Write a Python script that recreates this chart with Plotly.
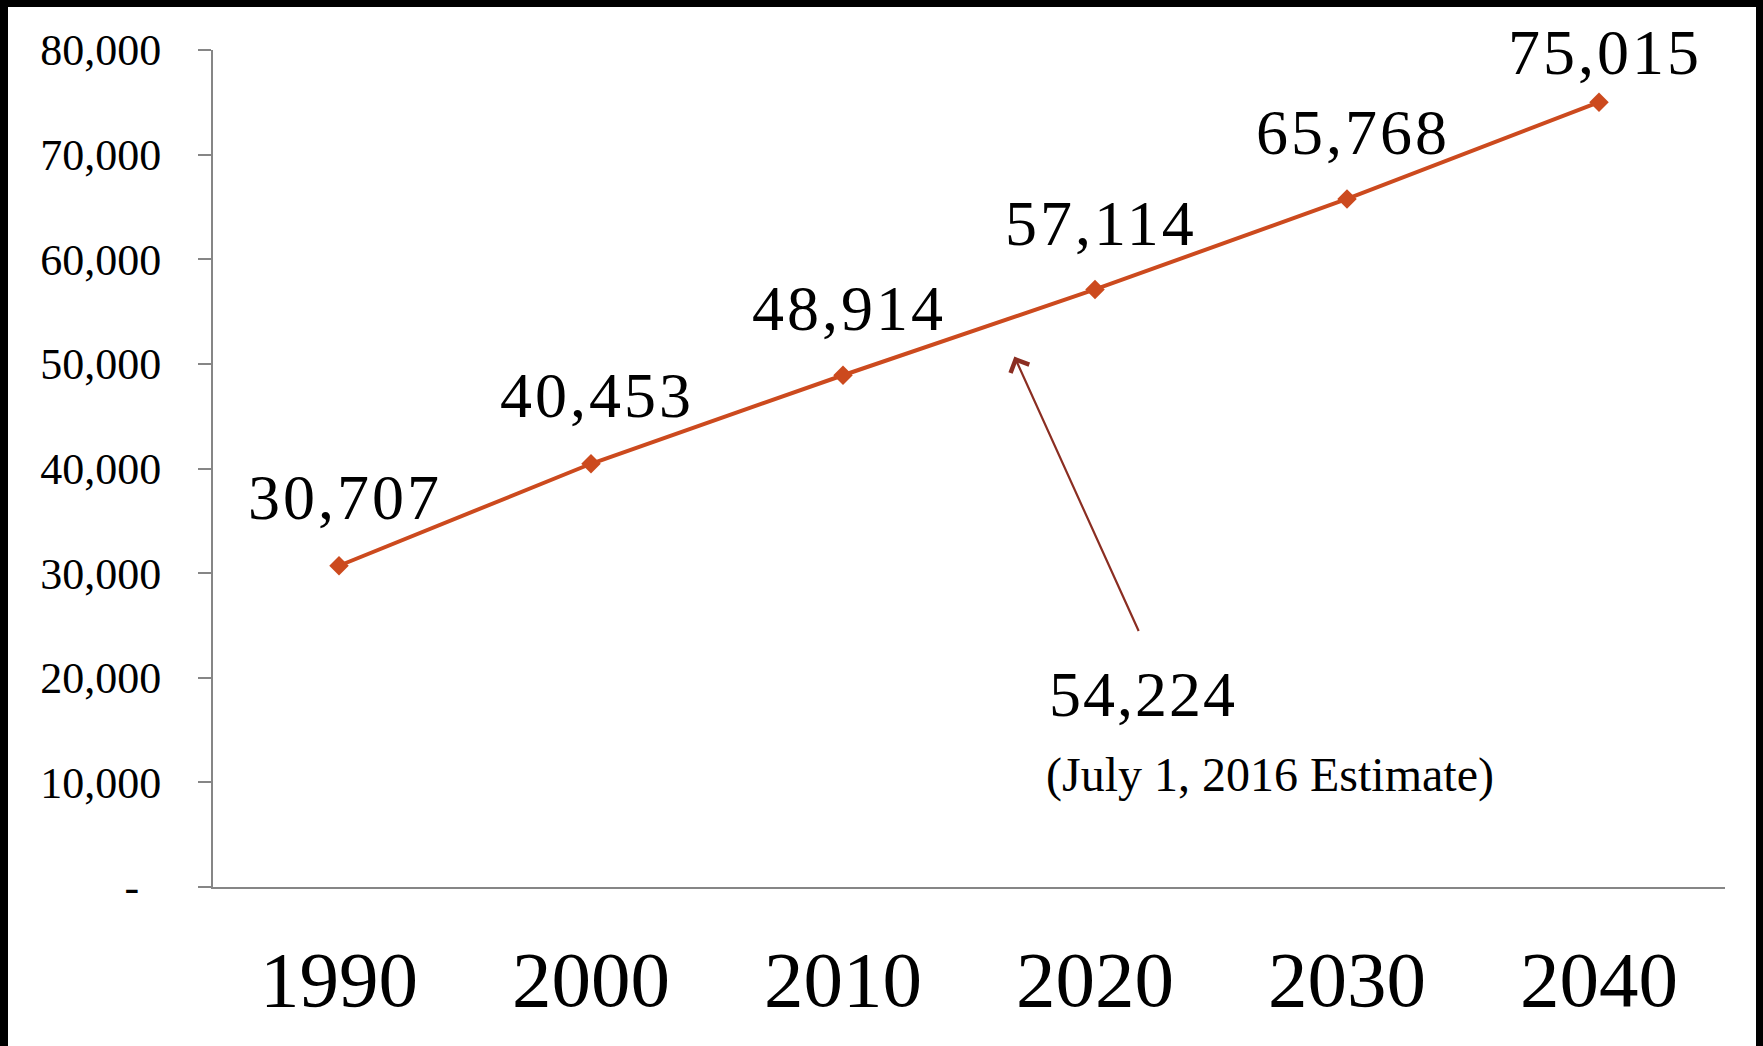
import plotly.graph_objects as go

years = ["1990", "2000", "2010", "2020", "2030", "2040"]
population = [30707, 40453, 48914, 57114, 65768, 75015]
label_shift = [68, 68, 67, 66, 66, 50]
y_ticks = [0, 10000, 20000, 30000, 40000, 50000, 60000, 70000, 80000]
y_ticktext = ["-\u00a0\u00a0", "10,000", "20,000", "30,000", "40,000",
              "50,000", "60,000", "70,000", "80,000"]
estimate_value = 54224
estimate_note = "(July 1, 2016 Estimate)"

LINE = "#CC4A1E"
SERIF = "Liberation Serif, Times New Roman, serif"

fig = go.Figure()
fig.add_trace(go.Scatter(
    x=years, y=population, mode="lines+markers",
    line=dict(color=LINE, width=4),
    marker=dict(symbol="diamond", size=15, color=LINE),
    hoverinfo="skip", showlegend=False,
))

annotations = []
for i, (v, s) in enumerate(zip(population, label_shift)):
    annotations.append(dict(
        x=i, y=v, xref="x", yref="y",
        text=f"<span style='letter-spacing:3px'>{v:,}</span>",
        showarrow=False, yshift=s, xshift=6,
        font=dict(family=SERIF, size=64, color="black"),
    ))

# arrow pointing to the 2016 estimate
annotations.append(dict(
    x=2.68, y=50700, xref="x", yref="y", ax=125, ay=276, axref="pixel", ayref="pixel",
    text="", showarrow=True, arrowhead=4, arrowsize=1.8, arrowwidth=2.2,
    arrowcolor="#8B2E22",
))
annotations.append(dict(
    x=(1047 - 213) / 1512, y=(887 - 694) / 837, xref="paper", yref="paper",
    xanchor="left", yanchor="middle",
    text=f"<span style='letter-spacing:2px'>{estimate_value:,}</span>", showarrow=False,
    font=dict(family=SERIF, size=64, color="black"),
))
annotations.append(dict(
    x=(1044 - 213) / 1512, y=(887 - 775) / 837, xref="paper", yref="paper",
    xanchor="left", yanchor="middle",
    text=estimate_note, showarrow=False,
    font=dict(family=SERIF, size=48, color="black"),
))

fig.update_layout(
    width=1763, height=1046,
    margin=dict(l=213, r=38, t=50, b=159),
    paper_bgcolor="black", plot_bgcolor="white",
    annotations=annotations,
    shapes=[dict(type="rect", xref="paper", yref="paper",
                 x0=(8 - 213) / 1512, x1=(1756 - 213) / 1512,
                 y0=-0.3, y1=(887 - 7) / 837,
                 fillcolor="white", line=dict(width=0), layer="below")],
    xaxis=dict(
        type="category", range=[-0.5, 5.5], showgrid=False, zeroline=False,
        showline=True, linecolor="#868686", linewidth=2, ticks="",
        tickfont=dict(family=SERIF, size=79, color="black"),
        ticklabelstandoff=22,
    ),
    yaxis=dict(
        range=[0, 80000], tickvals=y_ticks, ticktext=y_ticktext,
        showgrid=False, zeroline=False, showline=True,
        linecolor="#868686", linewidth=2, ticks="outside", ticklen=13,
        tickcolor="#868686", tickwidth=2,
        tickfont=dict(family=SERIF, size=44, color="black"),
        ticklabelstandoff=28,
    ),
)

fig.write_html(
    "out.html",
    config={"displayModeBar": False},
    post_script="document.body.style.margin='0';document.body.style.overflow='hidden';",
)
